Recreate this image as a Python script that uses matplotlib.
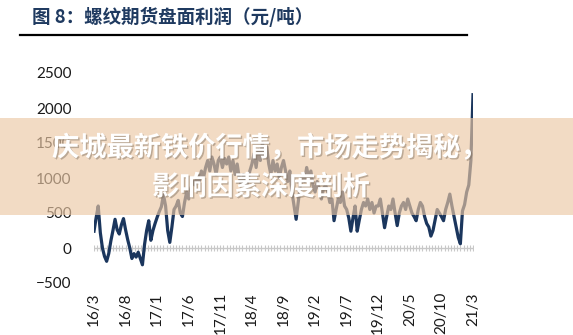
import numpy as np
import matplotlib
matplotlib.use("Agg")
import matplotlib.pyplot as plt
from matplotlib.patches import Rectangle
from matplotlib.lines import Line2D
import matplotlib.patheffects as pe

plt.rcParams['font.family'] = ['Lato', 'Noto Sans CJK SC', 'DejaVu Sans']

# rebar futures margin, roughly three readings per month from 2016/3 (元/吨)
profit_2016 = [240, 430, 600,   220, 0, -120,   -190, -80, 100,   250, 410, 260,
               200, 330, 420,   260, 120, 0,    -150, -80, -130,  -60, -150, -240,
               50, 250, 390,    110, 250, 350]
profit_2017 = [440, 520, 590,   760, 600, 250,  80, 300, 550,     600, 680, 500,
               450, 650, 800,   700, 850, 950,  900, 1050, 950,   1100, 1000, 1150,
               1250, 1100, 1300, 1200, 1050, 1250, 1300, 1150, 1280, 1200, 1300, 1100]
profit_2018 = [1250, 1050, 1200, 1000, 900, 1050, 850, 950, 1100,  1200, 1350, 1150,
               1400, 1250, 1500, 1300, 1450, 1200, 1050, 1250, 1100, 1200, 1000, 1150,
               1250, 1100, 950,  1100, 800, 600,   410, 650, 900,   1050, 950, 1150]
profit_2019 = [1000, 1100, 900, 800, 950, 850,  700, 850, 900,    800, 650, 700,
               390, 550, 700,   650, 800, 600,  550, 430, 240,    430, 600, 240,
               400, 550, 650,   600, 700, 550,  650, 500, 600,    600, 700, 500]
profit_2020 = [290, 450, 600,   550, 700, 500,  320, 500, 600,    650, 550, 700,
               600, 500, 450,   390, 550, 650,  600, 450, 350,    300, 170, 250,
               400, 550, 500,   450, 390, 550,  650, 770, 600,    450, 300, 150]
profit_2021 = [60, 530, 620,    800, 900, 1250, 2190]

profit = np.array(profit_2016 + profit_2017 + profit_2018 + profit_2019
                  + profit_2020 + profit_2021, dtype=float)
months = np.arange(len(profit)) / 3.0   # months since 2016/3

tick_months = np.arange(0, 61, 5)
tick_labels = ['16/3', '16/8', '17/1', '17/6', '17/11', '18/4', '18/9',
               '19/2', '19/7', '19/12', '20/5', '20/10', '21/3']

W, H = 573, 335
fig = plt.figure(figsize=(W / 100, H / 100), dpi=100)
ax = fig.add_axes([94 / W, 1 - 283 / H, (473 - 94) / W, (283 - 73) / H])

ax.plot(months, profit, color='#1b365d', lw=2.3, solid_joinstyle='round', zorder=3)

# category axis drawn through zero, with small cross ticks
ax.axhline(0, color='#c8c8c8', lw=1.0, zorder=2)
minor = np.arange(0, 60.01, 0.5)
ax.plot(minor, np.zeros_like(minor), ls='none', marker='|', ms=4.5,
        mew=0.8, color='#c8c8c8', zorder=2)

ax.set_xlim(0, 60)
ax.set_ylim(-500, 2500)
ax.set_yticks(np.arange(-500, 2501, 500))
ax.set_xticks(tick_months)
ax.set_xticklabels(tick_labels, rotation=90)
ax.tick_params(axis='y', length=0, pad=16, labelsize=11, labelcolor='#1a1a1a')
ax.tick_params(axis='x', length=0, pad=6.5, labelsize=11, labelcolor='#1a1a1a')
for lab in ax.get_xticklabels():
    lab.set_va('top')
for s in ax.spines.values():
    s.set_visible(False)

# header
fig.text(32 / W, 1 - 17 / H, '图 8：螺纹期货盘面利润（元/吨）', ha='left', va='center',
         fontsize=13.3, fontweight='bold', color='#1f3a60',
         family=['Noto Sans CJK SC', 'DejaVu Sans'])
fig.add_artist(Line2D([20 / W, 467 / W], [1 - 35 / H, 1 - 35 / H],
                      color='black', lw=1.6, transform=fig.transFigure))

# banner across the plot
fig.add_artist(Rectangle((0, 1 - 215 / H), 1, 97 / H, transform=fig.transFigure,
                         facecolor=(235 / 255, 200 / 255, 165 / 255), alpha=0.65,
                         edgecolor='none', zorder=5))
shadow = [pe.withSimplePatchShadow(offset=(1, -1), shadow_rgbFace='#7a6a5a', alpha=0.45)]
fig.text(270 / W, 1 - 148 / H, '庆城最新铁价行情，市场走势揭秘，', ha='center', va='center',
         fontsize=19.6, fontweight='bold', color='white', zorder=6,
         family=['Noto Sans CJK SC', 'DejaVu Sans'], path_effects=shadow)
fig.text(261 / W, 1 - 187 / H, '影响因素深度剖析', ha='center', va='center',
         fontsize=19.6, fontweight='bold', color='white', zorder=6,
         family=['Noto Sans CJK SC', 'DejaVu Sans'], path_effects=shadow)

fig.savefig('out.png', dpi=100)
